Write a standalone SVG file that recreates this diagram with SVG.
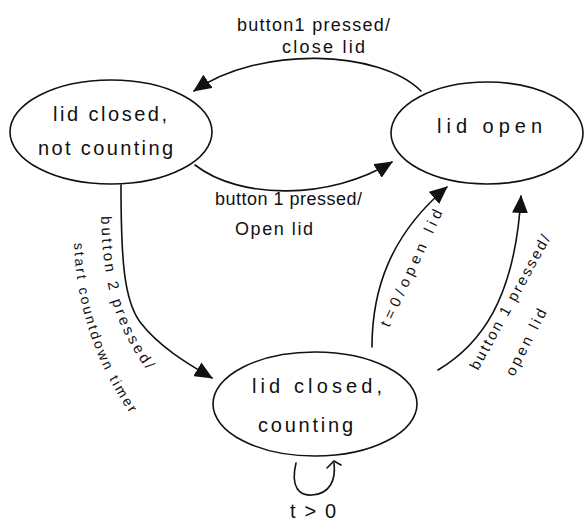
<svg xmlns="http://www.w3.org/2000/svg" width="585" height="521" viewBox="0 0 585 521">
  <style>
    .node { fill: #fff; stroke: #111; stroke-width: 1.6; }
    .edge { fill: none; stroke: #111; stroke-width: 1.6; stroke-linecap: round; }
    .t { font-family: "Liberation Sans", Arial, sans-serif; fill: #111; }
    .big { font-size: 20px; }
    .mid { font-size: 18px; }
    .sm { font-size: 15px; }
    .xs { font-size: 14px; }
  </style>
  <defs>
    <marker id="arrow" markerUnits="userSpaceOnUse" markerWidth="18" markerHeight="16" refX="17" refY="8" orient="auto">
      <path d="M0,0 L18,8 L0,16 z" fill="#111"/>
    </marker>
    <path id="p-b2" d="M101,216 C103,290 115,330 158,385"/>
    <path id="p-start" d="M74,243 C76,300 92,365 142,430"/>
    <path id="p-t0" d="M389,328 L443,212"/>
    <path id="p-b1r" d="M478,371 L552,236"/>
    <path id="p-openr" d="M514,377 L549,308"/>
  </defs>

  <g id="connectors">
    <path class="edge" d="M421,91 C380,50 260,45 194,91" marker-end="url(#arrow)"/>
    <path class="edge" d="M195,165 C240,200 330,200 392,162" marker-end="url(#arrow)"/>
    <path class="edge" d="M121,185 C121,260 124,300 140,322 C160,348 190,365 212,378" marker-end="url(#arrow)"/>
    <path class="edge" d="M372,347 C372,290 390,235 447,187" marker-end="url(#arrow)"/>
    <path class="edge" d="M438,370 C480,345 515,300 521,196" marker-end="url(#arrow)"/>
    <path class="edge" d="M296,463 C290,488 300,496 312,495 C330,494 336,480 334,463"/>
    <path class="edge" d="M327,468 L334,461 L341,465"/>
  </g>

  <g id="edge-labels">
    <text class="t mid" x="237" y="31" textLength="153" lengthAdjust="spacing">button1 pressed/</text>
    <text class="t mid" x="282" y="53" textLength="83" lengthAdjust="spacing">close lid</text>
    <text class="t mid" x="215" y="205" textLength="147" lengthAdjust="spacing">button 1 pressed/</text>
    <text class="t mid" x="235" y="235" textLength="78" lengthAdjust="spacing">Open lid</text>
    <text class="t sm" letter-spacing="3"><textPath href="#p-b2">button 2 pressed/</textPath></text>
    <text class="t xs" letter-spacing="2.4"><textPath href="#p-start">start countdown timer</textPath></text>
    <text class="t sm" letter-spacing="4.5"><textPath href="#p-t0">t=0/open lid</textPath></text>
    <text class="t sm" letter-spacing="2.2"><textPath href="#p-b1r">button 1 pressed/</textPath></text>
    <text class="t sm" letter-spacing="2.9"><textPath href="#p-openr">open lid</textPath></text>
    <text class="t big" x="290" y="518" textLength="46" lengthAdjust="spacing">t&gt;0</text>
  </g>

  <g id="node-closed-idle">
    <ellipse class="node" cx="111" cy="132" rx="101" ry="52"/>
    <text class="t big" x="53" y="121" textLength="114" lengthAdjust="spacing">lid closed,</text>
    <text class="t big" x="38" y="155" textLength="135" lengthAdjust="spacing">not counting</text>
  </g>

  <g id="node-open">
    <ellipse class="node" cx="487" cy="133" rx="96" ry="51"/>
    <text class="t big" x="437" y="133" textLength="105" lengthAdjust="spacing">lid open</text>
  </g>

  <g id="node-closed-counting">
    <ellipse class="node" cx="315" cy="404" rx="102" ry="52"/>
    <text class="t big" x="252" y="393" textLength="130" lengthAdjust="spacing">lid closed,</text>
    <text class="t big" x="258" y="432" textLength="95" lengthAdjust="spacing">counting</text>
  </g>
</svg>
